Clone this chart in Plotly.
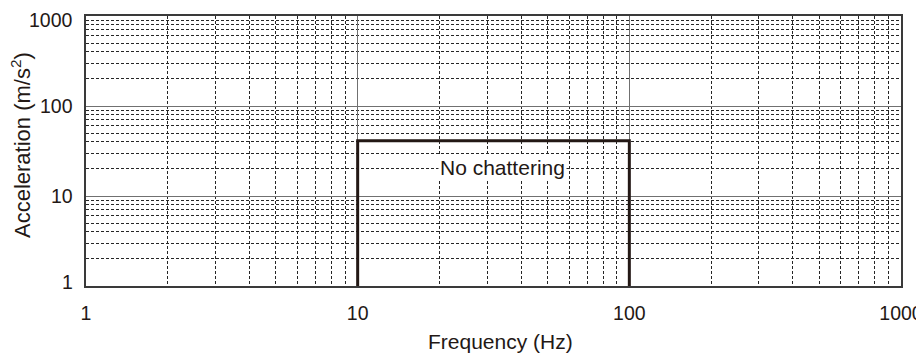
import math
import plotly.graph_objects as go

# Data
box_freq = [10, 10, 100, 100]          # Hz
box_accel = [1, 41, 41, 1]             # m/s^2
label_text = "No chattering"
label_freq = 34
label_accel = 21
x_ticks = [1, 10, 100, 1000]
y_ticks = [1, 10, 100, 1000]
x_title = "Frequency (Hz)"
y_title = "Acceleration (m/s<sup>2</sup>)"

FONT = "Liberation Sans, Arial, sans-serif"
INK = "#231815"
fig = go.Figure()
fig.add_trace(go.Scatter(
    x=box_freq, y=box_accel, mode="lines",
    line=dict(color=INK, width=3), showlegend=False, hoverinfo="skip",
))

fig.add_annotation(
    x=math.log10(label_freq), y=math.log10(label_accel), text=label_text,
    showarrow=False, bgcolor="white", font=dict(size=21, color=INK, family=FONT),
)

# y tick labels (end labels nudged inward, as in the reference)
for i, v in enumerate(y_ticks):
    shift = 4.5 if i == 0 else (-4 if i == len(y_ticks) - 1 else 0)
    fig.add_annotation(
        xref="paper", x=0, y=math.log10(v), yref="y", text=str(v),
        showarrow=False, xanchor="right", yanchor="middle", xshift=-13, yshift=shift,
        borderpad=0, borderwidth=0, font=dict(size=19.5, color=INK, family=FONT),
    )

# axis titles
fig.add_annotation(
    xref="paper", yref="paper", x=0.5, y=0, text=x_title, showarrow=False,
    xanchor="center", yanchor="middle", xshift=7, yshift=-55,
    borderpad=0, font=dict(size=21, color=INK, family=FONT),
)
fig.add_annotation(
    xref="paper", yref="paper", x=0, y=0.5, text=y_title, showarrow=False,
    textangle=-90, xanchor="center", yanchor="middle", xshift=-65, yshift=6,
    borderpad=0, borderwidth=0, font=dict(size=22, color=INK, family=FONT),
)

common = dict(
    type="log", showgrid=True, gridcolor="#707070", gridwidth=1,
    showline=True, linecolor="#3a3a3a", linewidth=1.5, mirror=True,
    ticks="", zeroline=False, automargin=False, ticklabeloverflow="allow",
    tickfont=dict(size=19.5, color=INK, family=FONT),
    minor=dict(dtick="D1", showgrid=True, gridcolor="#262626", gridwidth=1,
               griddash="3px,2px", ticks=""),
    range=[0, 3],
)

fig.update_xaxes(**common, tickvals=x_ticks, ticktext=[str(v) for v in x_ticks],
                 ticklabelstandoff=9)
fig.update_yaxes(**common, tickvals=y_ticks, showticklabels=False)

# The page body adds an 8px offset, so the figure is sized/margined to compensate
fig.update_layout(
    width=916, height=353,
    margin=dict(l=78, r=23, t=8, b=75),
    plot_bgcolor="white", paper_bgcolor="white",
    font=dict(family=FONT, color=INK),
)

fig.write_html("out.html")
